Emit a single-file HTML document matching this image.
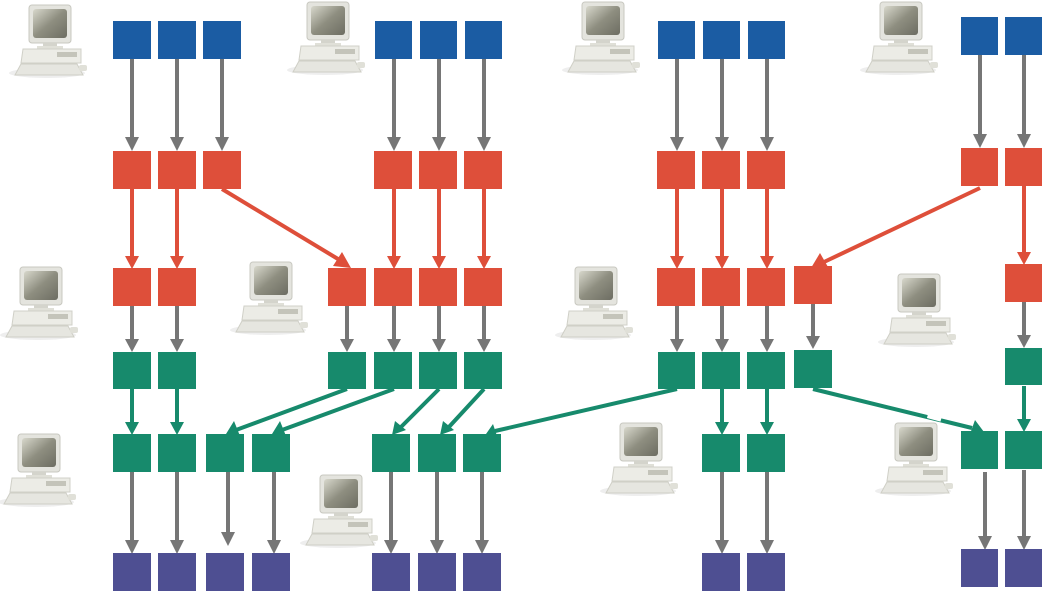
<!DOCTYPE html>
<html><head><meta charset="utf-8"><style>html,body{margin:0;padding:0;background:#fff;}svg{display:block}</style></head>
<body>
<svg width="1060" height="598" viewBox="0 0 1060 598" xmlns="http://www.w3.org/2000/svg">
<defs>
<linearGradient id="scr" x1="0" y1="0" x2="1" y2="1"><stop offset="0" stop-color="#d8d8cc"/><stop offset="0.5" stop-color="#8e8e80"/><stop offset="1" stop-color="#6d6d62"/></linearGradient>
<g id="pc">
<ellipse cx="40" cy="70" rx="38" ry="5" fill="#eee"/>
<rect x="22" y="2" width="42" height="38" rx="3" fill="#e4e4de" stroke="#c8c8c0"/>
<rect x="26" y="6" width="34" height="29" rx="3" fill="url(#scr)"/>
<rect x="36" y="40" width="14" height="4" fill="#d4d4cc"/>
<rect x="30" y="43" width="26" height="3" fill="#e0e0d8"/>
<polygon points="16,46 74,46 74,60 14,60" fill="#ecece6" stroke="#d0d0c8"/>
<rect x="50" y="49" width="20" height="5" fill="#c4c4ba"/>
<polygon points="14,61 70,61 76,72 8,72" fill="#e6e6e0" stroke="#cfcfc6"/>
<rect x="72" y="62" width="8" height="6" rx="2" fill="#e0e0d8"/>
</g>
<marker id="ag" viewBox="0 0 14 12" refX="7" refY="12" markerWidth="14" markerHeight="12" markerUnits="userSpaceOnUse" orient="auto-start-reverse"><path d="M0,0 L14,0 L7,12z" fill="#767676"/></marker>
</defs>

<g>
<use href="#pc" x="7" y="3"/><use href="#pc" x="285" y="0"/><use href="#pc" x="560" y="0"/><use href="#pc" x="858" y="0"/>
<use href="#pc" x="-2" y="265"/><use href="#pc" x="228" y="260"/><use href="#pc" x="553" y="265"/><use href="#pc" x="876" y="272"/>
<use href="#pc" x="-4" y="432"/><use href="#pc" x="298" y="473"/><use href="#pc" x="598" y="421"/><use href="#pc" x="873" y="421"/>
</g>

<!-- gray arrows -->
<g stroke="#767676" stroke-width="4" fill="none">
<path d="M132 58V137M177 58V137M222 58V137M394 58V137M439 58V137M484 58V137M677 58V137M722 58V137M767 58V137M980 54V134M1024 54V134"/>
<path d="M132 306V339M177 306V339M347 306V339M394 306V339M439 306V339M484 306V339M677 306V339M722 306V339M767 306V339M813 303V336M1024 302V335"/>
<path d="M132 472V541M177 472V541M228 472V532M274 472V541M391 472V541M437 472V541M482 472V541M722 472V541M767 472V541M985 472V537M1024 470V537"/>
</g>
<g fill="#767676">
<path d="M125 137h14l-7 14zM170 137h14l-7 14zM215 137h14l-7 14zM387 137h14l-7 14zM432 137h14l-7 14zM477 137h14l-7 14zM670 137h14l-7 14zM715 137h14l-7 14zM760 137h14l-7 14zM973 134h14l-7 14zM1017 134h14l-7 14z"/>
<path d="M125 339h14l-7 13zM170 339h14l-7 13zM340 339h14l-7 13zM387 339h14l-7 13zM432 339h14l-7 13zM477 339h14l-7 13zM670 339h14l-7 13zM715 339h14l-7 13zM760 339h14l-7 13zM806 336h14l-7 13zM1017 335h14l-7 13z"/>
<path d="M125 540h14l-7 14zM170 540h14l-7 14zM221 532h14l-7 14zM267 540h14l-7 14zM384 540h14l-7 14zM430 540h14l-7 14zM475 540h14l-7 14zM715 540h14l-7 14zM760 540h14l-7 14zM978 536h14l-7 14zM1017 536h14l-7 14z"/>
</g>

<!-- red arrows -->
<g stroke="#DE4F3A" stroke-width="4" fill="none">
<path d="M132 189V256M177 189V256M394 189V256M439 189V256M484 189V256M677 189V256M722 189V256M767 189V256M1024 186V252"/>
<path d="M222 189L338 259M980 188L824 262"/>
</g>
<g fill="#DE4F3A">
<path d="M125 256h14l-7 13zM170 256h14l-7 13zM387 256h14l-7 13zM432 256h14l-7 13zM477 256h14l-7 13zM670 256h14l-7 13zM715 256h14l-7 13zM760 256h14l-7 13zM1017 252h14l-7 13z"/>
<path d="M351 268L333 266L342 252z"/>
<path d="M811 268L820 253L828 267z"/>
</g>

<!-- green arrows -->
<g stroke="#178A6C" stroke-width="4" fill="none">
<path d="M132 389V422M177 389V422M722 389V422M767 389V422M1024 386V419"/>
<path d="M347 389L236 430M394 389L282 430M439 389L400 428M484 389L448 428M677 389L495 431M813 389L972 428"/>
</g>
<g fill="#178A6C">
<path d="M125 422h14l-7 13zM170 422h14l-7 13zM715 422h14l-7 13zM760 422h14l-7 13zM1017 419h14l-7 13z"/>
<path d="M226 434L234 421L240 436zM272 434L280 421L286 436zM392 435L395 421L406 430zM440 435L443 421L454 430zM486 434L493 424L497 436zM984 432L970 434L975 420z"/>
</g>
<rect x="928" y="410" width="14" height="10" fill="#fff" transform="rotate(15 935 415)"/>

<!-- boxes -->
<g fill="#1B5CA3">
<rect x="113" y="21" width="38" height="38"/><rect x="158" y="21" width="38" height="38"/><rect x="203" y="21" width="38" height="38"/>
<rect x="375" y="21" width="37" height="38"/><rect x="420" y="21" width="37" height="38"/><rect x="465" y="21" width="37" height="38"/>
<rect x="658" y="21" width="37" height="38"/><rect x="703" y="21" width="37" height="38"/><rect x="748" y="21" width="37" height="38"/>
<rect x="961" y="17" width="37" height="38"/><rect x="1005" y="17" width="37" height="38"/>
</g>
<g fill="#DE4F3A">
<rect x="113" y="151" width="38" height="38"/><rect x="158" y="151" width="38" height="38"/><rect x="203" y="151" width="38" height="38"/>
<rect x="374" y="151" width="38" height="38"/><rect x="419" y="151" width="38" height="38"/><rect x="464" y="151" width="38" height="38"/>
<rect x="657" y="151" width="38" height="38"/><rect x="702" y="151" width="38" height="38"/><rect x="747" y="151" width="38" height="38"/>
<rect x="961" y="148" width="37" height="38"/><rect x="1005" y="148" width="37" height="38"/>
<rect x="113" y="268" width="38" height="38"/><rect x="158" y="268" width="38" height="38"/>
<rect x="328" y="268" width="38" height="38"/><rect x="374" y="268" width="38" height="38"/><rect x="419" y="268" width="38" height="38"/><rect x="464" y="268" width="38" height="38"/>
<rect x="657" y="268" width="38" height="38"/><rect x="702" y="268" width="38" height="38"/><rect x="747" y="268" width="38" height="38"/><rect x="794" y="266" width="38" height="38"/>
<rect x="1005" y="264" width="37" height="38"/>
</g>
<g fill="#178A6C">
<rect x="113" y="352" width="38" height="37"/><rect x="158" y="352" width="38" height="37"/>
<rect x="328" y="352" width="38" height="37"/><rect x="374" y="352" width="38" height="37"/><rect x="419" y="352" width="38" height="37"/><rect x="464" y="352" width="38" height="37"/>
<rect x="658" y="352" width="37" height="37"/><rect x="702" y="352" width="38" height="37"/><rect x="747" y="352" width="38" height="37"/><rect x="794" y="350" width="38" height="38"/>
<rect x="1005" y="348" width="37" height="37"/>
<rect x="113" y="434" width="38" height="38"/><rect x="158" y="434" width="38" height="38"/><rect x="206" y="434" width="38" height="38"/><rect x="252" y="434" width="38" height="38"/>
<rect x="372" y="434" width="38" height="38"/><rect x="418" y="434" width="38" height="38"/><rect x="463" y="434" width="38" height="38"/>
<rect x="702" y="434" width="38" height="38"/><rect x="747" y="434" width="38" height="38"/>
<rect x="961" y="431" width="37" height="38"/><rect x="1005" y="431" width="37" height="38"/>
</g>
<g fill="#4E4F92">
<rect x="113" y="553" width="38" height="38"/><rect x="158" y="553" width="38" height="38"/><rect x="206" y="553" width="38" height="38"/><rect x="252" y="553" width="38" height="38"/>
<rect x="372" y="553" width="38" height="38"/><rect x="418" y="553" width="38" height="38"/><rect x="463" y="553" width="38" height="38"/>
<rect x="702" y="553" width="38" height="38"/><rect x="747" y="553" width="38" height="38"/>
<rect x="961" y="549" width="37" height="38"/><rect x="1005" y="549" width="37" height="38"/>
</g>
</svg>
</body></html>
